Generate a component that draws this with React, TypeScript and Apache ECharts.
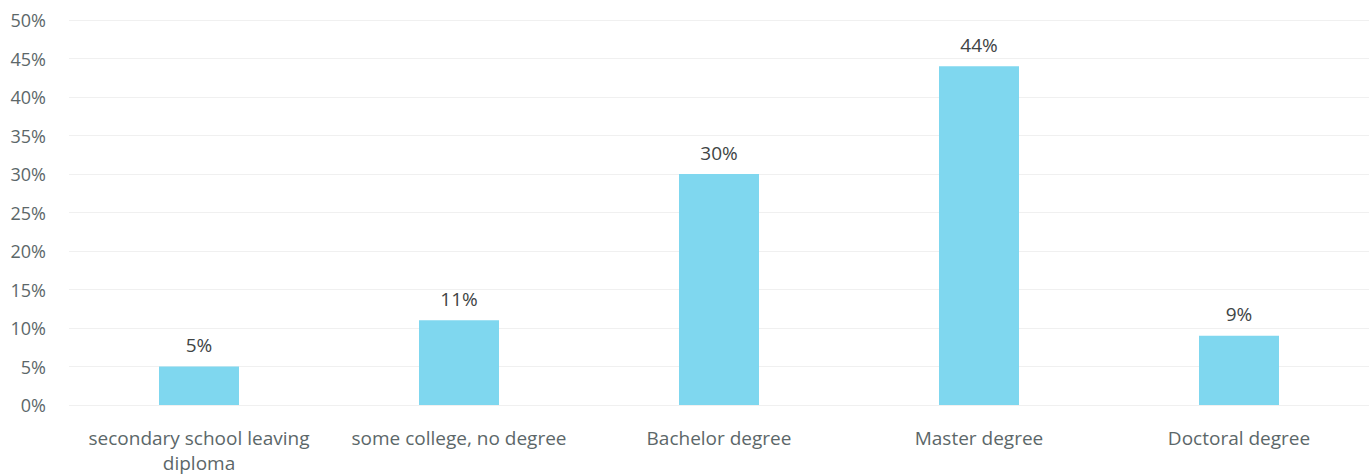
import React, { useEffect, useRef } from "react";
import * as echarts from "echarts";

const categories = [
  "secondary school leaving\ndiploma",
  "some college, no degree",
  "Bachelor degree",
  "Master degree",
  "Doctoral degree",
];
const values = [5, 11, 30, 44, 9];

export default function App() {
  const ref = useRef<HTMLDivElement>(null);
  useEffect(() => {
    const chart = echarts.init(ref.current!, undefined, { renderer: "svg" });
    chart.setOption({
      animation: false,
      backgroundColor: "#ffffff",
      grid: { left: 69, right: 1, top: 20, bottom: 70, containLabel: false },
      xAxis: {
        type: "category",
        data: categories,
        axisLine: { show: false },
        axisTick: { show: false },
        axisLabel: {
          color: "#5c6769",
          fontFamily: "Open Sans",
          fontSize: 19,
          margin: 20,
          lineHeight: 25,
          interval: 0,
        },
      },
      yAxis: {
        type: "value",
        min: 0,
        max: 50,
        interval: 5,
        axisLine: { show: false },
        axisTick: { show: false },
        splitLine: { lineStyle: { color: "#f0f0f0", width: 1 } },
        axisLabel: {
          formatter: "{value}%",
          color: "#5c6769",
          fontFamily: "Open Sans",
          fontSize: 18,
          margin: 23,
        },
      },
      series: [
        {
          type: "bar",
          data: values,
          barWidth: 80,
          itemStyle: { color: "#7fd7ef" },
          label: {
            show: true,
            position: "top",
            formatter: "{c}%",
            color: "#404445",
            fontFamily: "Open Sans",
            fontSize: 19,
            distance: 12,
          },
        },
      ],
    });
    return () => chart.dispose();
  }, []);
  return (
    <div
      ref={ref}
      style={{ position: "absolute", left: 0, top: 0, width: 1370, height: 475 }}
    />
  );
}
